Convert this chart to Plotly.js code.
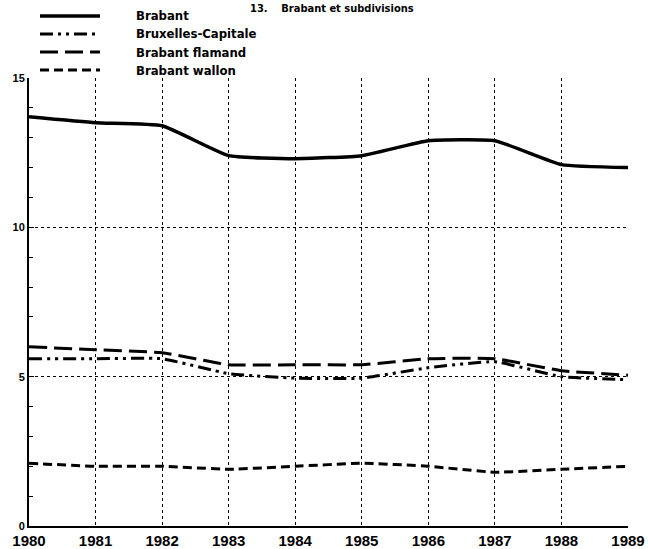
<!DOCTYPE html>
<html><head><meta charset="utf-8">
<script src="https://cdn.plot.ly/plotly-3.0.1.min.js"></script>
<style>html,body{margin:0;padding:0;background:#fff}#c{width:648px;height:549px}</style>
</head><body><div id="c"></div>
<script>
const years = [1980,1981,1982,1983,1984,1985,1986,1987,1988,1989];
const seriesNames = ["Brabant","Bruxelles-Capitale","Brabant flamand","Brabant wallon"];
const brabant   = [13.7,13.5,13.4,12.4,12.3,12.4,12.9,12.9,12.1,12.0];
const bruxelles = [5.6,5.6,5.6,5.1,4.95,4.95,5.3,5.5,5.0,4.9];
const flamand   = [6.0,5.9,5.8,5.4,5.4,5.4,5.6,5.6,5.2,5.05];
const wallon    = [2.1,2.0,2.0,1.9,2.0,2.1,2.0,1.8,1.9,2.0];
const yTicks = [0,5,10,15];
const titleText = "13.\u00a0\u00a0\u00a0\u00a0Brabant et subdivisions";

const dashes = ["solid","13px,5px,3px,5px,3px,5px","18px,7px","9px,5px"];
const widths = [3.5,3,3,3];
const vals = [brabant,bruxelles,flamand,wallon];
const traces = vals.map((v,i)=>({
  x: years, y: v, name: seriesNames[i], type:"scatter", mode:"lines", showlegend:false,
  line:{color:"#000", width:widths[i], dash:dashes[i], shape:"spline", smoothing:0.4}
}));

// custom legend (paper coordinates)
const L = 29, W = 599, B = 526, H = 448;
const px = v => (v - L) / W, py = v => (B - v) / H;
const rows = [16, 34, 52, 70];
const legFont = {family:"'DejaVu Sans Condensed','Liberation Sans',Arial,sans-serif", size:13, color:"#000", weight:"bold"};
const shapes = rows.map((r,i)=>({type:"line", xref:"paper", yref:"paper",
  x0:px(40), x1:px(100), y0:py(r), y1:py(r),
  line:{color:"#000", width:widths[i], dash:dashes[i]}}));
const annotations = rows.map((r,i)=>({xref:"paper", yref:"paper", x:px(134), y:py(r),
  xanchor:"left", yanchor:"middle", text:seriesNames[i], showarrow:false, font:legFont}));
annotations.push({xref:"paper", yref:"paper", x:px(332), y:py(0), xanchor:"center", yanchor:"top",
  text:titleText, showarrow:false, font:{family:legFont.family, size:11, color:"#000", weight:"bold"}});

const tickFontFamily = "'Liberation Sans',Arial,sans-serif";
const layout = {
  width:648, height:549,
  margin:{l:29, r:20, t:78, b:23, pad:0, autoexpand:false},
  paper_bgcolor:"#fff", plot_bgcolor:"#fff",
  showlegend:false,
  xaxis:{range:[1980,1989], tickvals:years, ticktext:years.map(String),
    showgrid:true, gridcolor:"#000", griddash:"dot", gridwidth:1,
    showline:true, linecolor:"#000", linewidth:2, zeroline:false,
    ticks:"", tickfont:{family:tickFontFamily, size:15, color:"#000", weight:"bold"}},
  yaxis:{range:[0,15], tickvals:yTicks, ticktext:yTicks.map(String),
    showgrid:true, gridcolor:"#000", griddash:"dot", gridwidth:1,
    showline:true, linecolor:"#000", linewidth:2, zeroline:false,
    ticks:"inside", ticklen:5, tickcolor:"#000",
    minor:{dtick:1, ticks:"inside", ticklen:4, tickcolor:"#000", showgrid:false},
    tickfont:{family:tickFontFamily, size:11, color:"#000", weight:"bold"}},
  shapes: shapes,
  annotations: annotations
};
Plotly.newPlot("c", traces, layout, {displayModeBar:false, staticPlot:true});
</script></body></html>
